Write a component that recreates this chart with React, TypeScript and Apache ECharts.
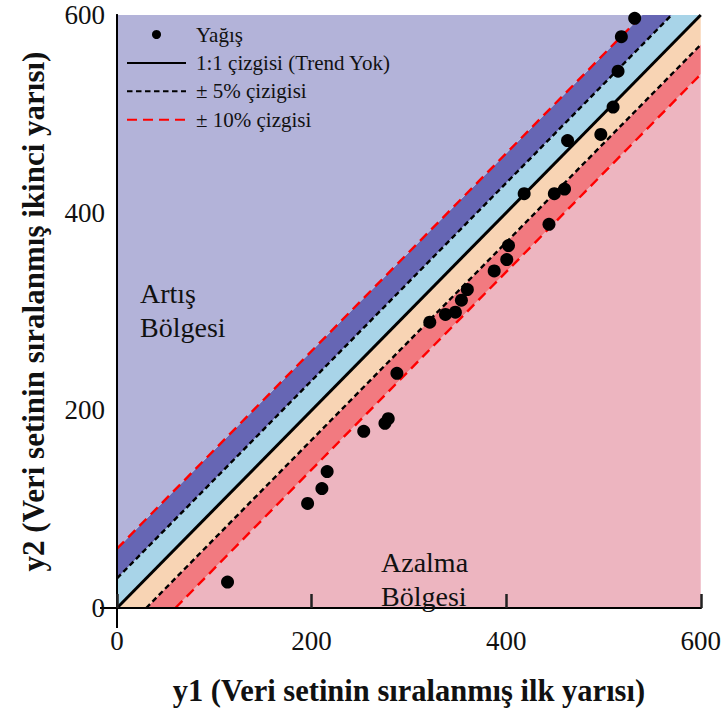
import React, { useEffect, useRef } from "react";
import * as echarts from "echarts";

// Data
const Y1_VALUES = [113.6, 195.9, 210.6, 216.0, 253.6, 275.4, 278.8, 287.7, 321.5, 337.6, 347.8, 354.0, 360.1, 387.7, 400.6, 402.4, 418.5, 444.0, 449.5, 460.0, 463.1, 497.3, 509.9, 515.0, 518.4, 532.1];
const Y2_VALUES = [26.3, 105.8, 120.9, 138.1, 178.8, 186.9, 191.6, 237.4, 289.2, 297.0, 299.3, 311.4, 322.2, 341.1, 352.5, 366.7, 419.2, 388.2, 419.2, 423.9, 473.0, 479.1, 506.8, 543.1, 578.1, 596.7];

const AXIS_MIN = 0;
const AXIS_MAX = 600;
const AXIS_INTERVAL = 200;

// offsets of the reference lines (5% and 10% of 600)
const OFFSET_5 = 30;
const OFFSET_10 = 60;

// bands between lines: [low offset, high offset]
const BAND_LOW = [-1000, -OFFSET_10, -OFFSET_5, 0, OFFSET_5, OFFSET_10];
const BAND_HIGH = [-OFFSET_10, -OFFSET_5, 0, OFFSET_5, OFFSET_10, 1000];
const BAND_COLORS = ["#edb5c0", "#f27a80", "#f8d4b4", "#a8d4e8", "#6666b4", "#b3b3d9"];

const LEGEND_NAMES = ["Yağış", "1:1 çizgisi (Trend Yok)", "± 5% çizigisi", "± 10% çizgisi"];
const ZONE_UP = "Artış\nBölgesi";
const ZONE_DOWN = "Azalma\nBölgesi";
const X_TITLE = "y1 (Veri setinin sıralanmış ilk yarısı)";
const Y_TITLE = "y2 (Veri setinin sıralanmış ikinci yarısı)";

const FONT = "Liberation Serif";

export default function App() {
  const ref = useRef<HTMLDivElement>(null);

  useEffect(() => {
    if (!ref.current) return;
    const chart = echarts.init(ref.current, undefined, { renderer: "svg" });

    const bandData = BAND_LOW.map((lo, i) => [lo, BAND_HIGH[i], i]);
    const scatterData = Y1_VALUES.map((x, i) => [x, Y2_VALUES[i]]);

    const lineFor = (off: number) => {
      const x0 = Math.max(AXIS_MIN, AXIS_MIN - off);
      const x1 = Math.min(AXIS_MAX, AXIS_MAX - off);
      return [
        [x0, x0 + off],
        [x1, x1 + off],
      ];
    };

    const baseLine = (name: string, off: number, color: string, width: number, type: any) => ({
      type: "line",
      name,
      data: lineFor(off),
      symbol: "none",
      showSymbol: false,
      lineStyle: { color, width, type },
      itemStyle: { color },
      z: 3,
      silent: true,
    });

    const hiddenIcon = { color: "rgba(0,0,0,0)", borderWidth: 0, opacity: 0 };

    const option: any = {
      animation: false,
      textStyle: { fontFamily: FONT },
      grid: { left: 117, top: 15, width: 586, height: 594 },
      legend: {
        data: [
          { name: LEGEND_NAMES[0] },
          { name: LEGEND_NAMES[1], itemStyle: hiddenIcon },
          { name: LEGEND_NAMES[2], itemStyle: hiddenIcon },
          { name: LEGEND_NAMES[3], itemStyle: hiddenIcon },
        ],
        orient: "vertical",
        left: 121,
        top: 19,
        itemWidth: 59,
        itemHeight: 9,
        itemGap: 7.4,
        textStyle: { fontFamily: FONT, fontSize: 21, color: "#111", lineHeight: 19, padding: [0, 0, 0, 5] },
        selectedMode: false,
        z: 20,
      },
      xAxis: [
        {
          type: "value",
          min: AXIS_MIN,
          max: AXIS_MAX,
          interval: AXIS_INTERVAL,
          position: "bottom",
          z: 10,
          axisLine: { show: true, lineStyle: { color: "#000", width: 2 } },
          axisTick: { show: true, inside: true, length: 14, lineStyle: { color: "#222", width: 2.5 } },
          axisLabel: { fontFamily: FONT, fontSize: 27, color: "#111", margin: 19 },
          splitLine: { show: false },
          name: X_TITLE,
          nameLocation: "middle",
          nameGap: 67,
          nameTextStyle: { fontFamily: FONT, fontSize: 30.5, fontWeight: "bold", color: "#111" },
        },
        {
          type: "value",
          min: AXIS_MIN,
          max: AXIS_MAX,
          interval: AXIS_INTERVAL,
          position: "top",
          z: 10,
          axisLine: { show: true, lineStyle: { color: "#000", width: 2 } },
          axisTick: { show: false },
          axisLabel: { show: false },
          splitLine: { show: false },
        },
        {
          type: "value",
          min: AXIS_MIN,
          max: AXIS_MAX,
          position: "bottom",
          z: 10,
          axisLine: { show: false },
          axisTick: { show: true, inside: false, length: 20, customValues: [0], lineStyle: { color: "#000", width: 2 } },
          axisLabel: { show: false },
          splitLine: { show: false },
        },
      ],
      yAxis: [
        {
          type: "value",
          min: AXIS_MIN,
          max: AXIS_MAX,
          interval: AXIS_INTERVAL,
          position: "left",
          z: 10,
          axisLine: { show: true, lineStyle: { color: "#000", width: 2 } },
          axisTick: { show: true, inside: false, length: 17, customValues: [0], lineStyle: { color: "#000", width: 2 } },
          axisLabel: { fontFamily: FONT, fontSize: 27, color: "#111", margin: 12 },
          splitLine: { show: false },
          name: Y_TITLE,
          nameLocation: "middle",
          nameGap: 68,
          nameRotate: 90,
          nameTextStyle: { fontFamily: FONT, fontSize: 31, fontWeight: "bold", color: "#111" },
        },
        {
          type: "value",
          min: AXIS_MIN,
          max: AXIS_MAX,
          interval: AXIS_INTERVAL,
          position: "right",
          z: 10,
          axisLine: { show: true, lineStyle: { color: "#000", width: 2 } },
          axisTick: { show: false },
          axisLabel: { show: false },
          splitLine: { show: false },
        },
      ],
      series: [
        {
          type: "custom",
          name: "bands",
          clip: true,
          silent: true,
          z: 1,
          data: bandData,
          encode: { x: -1, y: -1 },
          renderItem: (params: any, api: any) => {
            const lo = api.value(0);
            const hi = api.value(1);
            const idx = api.value(2);
            const a = -100;
            const b = 700;
            const pts = [
              api.coord([a, a + lo]),
              api.coord([b, b + lo]),
              api.coord([b, b + hi]),
              api.coord([a, a + hi]),
            ];
            const cs = params.coordSys;
            return {
              type: "group",
              children: [
                {
                  type: "polygon",
                  shape: { points: pts },
                  style: { fill: BAND_COLORS[idx], stroke: null },
                },
              ],
              clipPath: { type: "rect", shape: { x: cs.x, y: cs.y, width: cs.width, height: cs.height } },
            };
          },
        },
        {
          type: "scatter",
          name: LEGEND_NAMES[0],
          data: scatterData,
          symbol: "circle",
          symbolSize: 13,
          itemStyle: { color: "#000", opacity: 1 },
          z: 5,
          silent: true,
        },
        baseLine(LEGEND_NAMES[1], 0, "#000", 3, "solid"),
        baseLine(LEGEND_NAMES[2], OFFSET_5, "#000", 2.4, [5.5, 3.5]),
        baseLine(LEGEND_NAMES[2], -OFFSET_5, "#000", 2.4, [5.5, 3.5]),
        baseLine(LEGEND_NAMES[3], OFFSET_10, "#ff0000", 2.4, [10, 6]),
        baseLine(LEGEND_NAMES[3], -OFFSET_10, "#ff0000", 2.4, [10, 6]),
      ],
      graphic: [
        {
          type: "text",
          left: 140,
          top: 276,
          z: 20,
          style: { text: ZONE_UP, fontFamily: FONT, fontSize: 28, lineHeight: 34, fill: "#111" },
        },
        {
          type: "text",
          left: 381,
          top: 545,
          z: 20,
          style: { text: ZONE_DOWN, fontFamily: FONT, fontSize: 28, lineHeight: 34, fill: "#111" },
        },
      ],
    };

    chart.setOption(option);
    return () => chart.dispose();
  }, []);

  return (
    <div
      ref={ref}
      style={{ position: "fixed", left: 0, top: 0, width: 724, height: 711, background: "#fff" }}
    />
  );
}
